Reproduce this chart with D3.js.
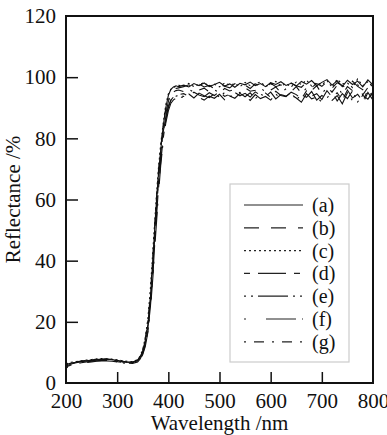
<!DOCTYPE html>
<html>
<head>
<meta charset="utf-8">
<script src="https://cdn.jsdelivr.net/npm/d3@7"></script>
<style>
  body { margin: 0; background: #fff; }
  svg { display: block; }
</style>
</head>
<body>
<div id="chart"></div>
<script>
// wavelength samples (nm)
const wavelengths = [200,210,220,230,240,250,260,270,280,290,300,310,320,330,340,
  345,350,355,360,365,370,375,380,385,390,395,400,405,410,415,420,
  430,440,450,460,470,480,490,500,510,520,530,540,550,560,570,580,590,600,610,
  620,630,640,650,660,670,680,690,700,710,720,730,740,750,760,770,780,790,800];

// reflectance (%)
const seriesA = [6.0,6.5,6.8,7.1,7.3,7.5,7.7,7.8,7.8,7.6,7.4,7.1,6.9,6.8,7.4,
  8.6,10.5,14,19,28,41,55,67,76,84,90,94,96,96.8,97.2,96.9,
  97.4,96.8,97.9,97.2,98.1,96.9,97.6,98.3,97.1,97.8,96.7,98.0,97.5,98.4,97.2,97.9,96.9,98.2,97.6,
  98.5,97.3,98.0,97.1,98.6,97.7,98.9,97.2,98.3,99.2,97.4,98.8,96.9,99.0,97.6,98.7,96.8,99.1,97.5];
const seriesB = [5.5,6.2,6.6,6.9,7.1,7.3,7.5,7.6,7.6,7.5,7.2,6.9,6.7,6.6,7.1,
  8.2,10,13,18,26,38,52,64,74,82,88,92,94.5,95.8,96.3,96.5,
  96.9,97.5,96.4,97.8,96.8,97.3,96.2,97.7,97.0,96.5,97.9,96.8,97.4,96.3,97.8,97.1,96.6,98.0,96.9,
  97.5,96.4,98.1,97.2,96.7,98.3,96.6,97.9,97.0,98.5,96.4,98.2,97.3,96.2,98.7,97.0,95.9,98.4,96.8];
const seriesC = [6.3,6.8,7.0,7.3,7.5,7.7,7.9,8.0,7.9,7.8,7.6,7.3,7.1,7.0,7.6,
  8.9,11,15,21,31,44,57,69,78,85,91,94.5,96,96.6,97,97.3,
  97.1,98.0,96.9,97.6,98.2,97.0,97.7,96.8,98.1,97.4,97.9,96.9,98.3,97.2,97.8,98.4,97.0,97.6,98.6,
  97.1,97.9,96.8,98.4,97.6,99.0,97.1,98.2,97.5,98.9,96.7,99.3,97.8,98.1,96.6,99.4,97.2,98.5,96.9];
const seriesD = [5.2,5.9,6.3,6.6,6.9,7.1,7.3,7.4,7.4,7.3,7.0,6.7,6.5,6.4,6.9,
  7.9,9.6,12.5,17,25,36,50,62,72,80,86,90,92.5,93.5,94,94.3,
  94.6,93.8,95.1,94.2,93.6,94.9,94.0,95.3,93.7,94.5,95.0,93.9,94.7,93.5,95.2,94.1,94.8,93.4,95.4,
  94.0,93.6,95.1,94.3,92.9,95.5,93.8,94.6,92.7,95.6,93.5,94.9,92.4,95.8,93.2,94.4,92.1,95.9,93.6];
const seriesE = [5.8,6.4,6.7,7.0,7.2,7.4,7.6,7.7,7.7,7.5,7.3,7.0,6.8,6.7,7.3,
  8.4,10.2,13.5,18.5,27,39,53,65,75,82,87,90.5,92.5,93.3,93.8,94.1,
  93.7,94.5,93.2,94.8,93.9,93.3,94.6,93.5,95.0,93.8,93.1,94.7,93.6,94.9,93.0,94.4,93.7,95.1,92.9,
  94.3,93.8,95.0,92.6,94.2,93.4,95.3,92.5,94.0,93.1,95.4,92.2,94.6,93.0,95.5,91.9,94.1,92.8,95.2];
const seriesF = [4.9,5.6,6.1,6.4,6.7,6.9,7.1,7.2,7.2,7.1,6.9,6.6,6.4,6.3,6.8,
  7.7,9.3,12,16.5,24,35,48,60,71,79,85,89,91.5,92.6,93.1,93.4,
  93.5,92.9,94.0,93.3,92.5,93.8,93.1,94.4,92.6,93.7,93.9,92.8,93.8,92.4,94.3,93.0,93.7,92.5,94.5,
  92.9,92.7,94.2,93.2,91.8,94.6,92.9,93.5,91.8,94.7,92.4,94.0,91.3,94.9,92.3,93.3,91.2,95.0,92.5];
const seriesG = [6.1,6.6,6.9,7.2,7.4,7.6,7.8,7.9,7.8,7.7,7.5,7.2,7.0,6.9,7.5,
  8.7,10.8,14.5,20,29,42,56,68,77,84,89.5,92.5,94.5,95.2,95.6,95.8,
  95.3,96.1,95.0,95.8,96.4,95.2,95.9,94.8,96.3,95.5,96.0,94.9,96.5,95.4,95.7,96.6,95.1,95.8,96.8,
  94.9,96.2,95.3,96.9,94.7,96.4,95.6,97.2,94.5,96.7,95.1,97.4,94.3,96.9,95.6,97.6,94.2,96.6,95.3];

const seriesNames = ['(a)', '(b)', '(c)', '(d)', '(e)', '(f)', '(g)'];
const xTicks = [200, 300, 400, 500, 600, 700, 800];
const yTicks = [0, 20, 40, 60, 80, 100, 120];

const allSeries = [seriesA, seriesB, seriesC, seriesD, seriesE, seriesF, seriesG];
// line dash patterns for (a)..(g)
const dashes = ['none', '15,12', '2,3', '6,8,28,8', '2,5,2,5,30,5', '2,20,30,6', '2,8,10,8'];

const width = 387, height = 435;
const margin = { top: 16, right: 14, bottom: 52, left: 66 };
const innerW = width - margin.left - margin.right;
const innerH = height - margin.top - margin.bottom;
const font = '"Liberation Serif", "DejaVu Serif", serif';

const svg = d3.select('#chart').append('svg')
  .attr('width', width)
  .attr('height', height);

const g = svg.append('g')
  .attr('transform', `translate(${margin.left},${margin.top})`);

const x = d3.scaleLinear().domain([200, 800]).range([0, innerW]);
const y = d3.scaleLinear().domain([0, 120]).range([innerH, 0]);

// curves
const line = d3.line()
  .x((d, i) => x(wavelengths[i]))
  .y(d => y(d));

g.selectAll('.curve')
  .data(allSeries)
  .join('path')
  .attr('class', 'curve')
  .attr('fill', 'none')
  .attr('stroke', '#111')
  .attr('stroke-width', 1.1)
  .attr('stroke-dasharray', (d, i) => dashes[i])
  .attr('d', line);

// axes, ticks pointing inward
const xAxis = g.append('g')
  .attr('transform', `translate(0,${innerH})`)
  .call(d3.axisBottom(x).tickValues(xTicks).tickSize(-11).tickPadding(10));
const yAxis = g.append('g')
  .call(d3.axisLeft(y).tickValues(yTicks).tickSize(-12).tickPadding(10));

[xAxis, yAxis].forEach(ax => {
  ax.select('.domain').remove();
  ax.selectAll('line').attr('stroke', '#111').attr('stroke-width', 1.5);
  ax.selectAll('text')
    .attr('fill', '#111')
    .attr('font-size', '21px')
    .attr('font-family', font);
});
// no tick marks on the frame corners
xAxis.selectAll('.tick').filter(d => d === 200 || d === 800).select('line').remove();
yAxis.selectAll('.tick').filter(d => d === 0 || d === 120).select('line').remove();

// frame
g.append('rect')
  .attr('width', innerW)
  .attr('height', innerH)
  .attr('fill', 'none')
  .attr('stroke', '#111')
  .attr('stroke-width', 2);

// axis titles
svg.append('text')
  .attr('x', margin.left + innerW / 2)
  .attr('y', 430)
  .attr('text-anchor', 'middle')
  .attr('font-size', '21px')
  .attr('font-family', font)
  .attr('fill', '#111')
  .text('Wavelength /nm');

svg.append('text')
  .attr('transform', `translate(20,${margin.top + innerH / 2}) rotate(-90)`)
  .attr('text-anchor', 'middle')
  .attr('font-size', '21px')
  .attr('font-family', font)
  .attr('fill', '#111')
  .text('Reflectance /%');

// legend
const legend = svg.append('g').attr('transform', 'translate(230,184)');
legend.append('rect')
  .attr('width', 119)
  .attr('height', 178)
  .attr('fill', '#fff')
  .attr('stroke', '#ccc')
  .attr('stroke-width', 1.2);

const rows = legend.selectAll('.row')
  .data(seriesNames)
  .join('g')
  .attr('class', 'row')
  .attr('transform', (d, i) => `translate(0,${21 + i * 22.8})`);

rows.append('line')
  .attr('x1', 14).attr('x2', 73)
  .attr('stroke', '#222')
  .attr('stroke-width', 1.2)
  .attr('stroke-dasharray', (d, i) => dashes[i]);

rows.append('text')
  .attr('x', 82)
  .attr('y', 7)
  .attr('font-size', '20px')
  .attr('font-family', font)
  .attr('fill', '#111')
  .text(d => d);
</script>
</body>
</html>
